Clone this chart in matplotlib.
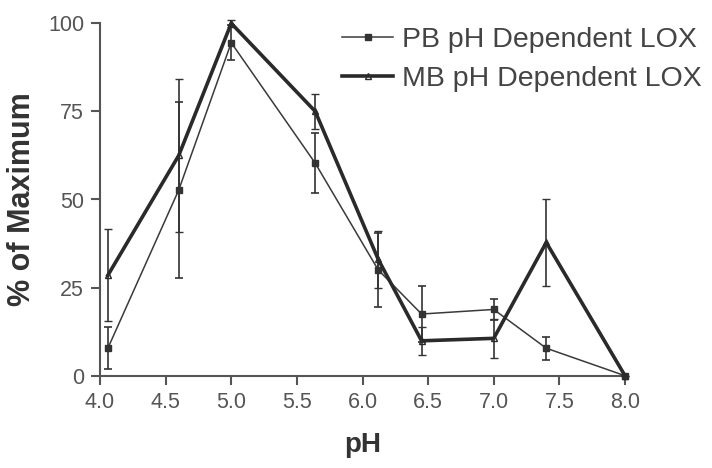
import numpy as np
import matplotlib
matplotlib.use("Agg")
import matplotlib.pyplot as plt

# pH values and % of maximum
ph = [4.06, 4.6, 5.0, 5.64, 6.12, 6.45, 7.0, 7.4, 8.0]
pb_mean = [7.8, 52.7, 94.5, 60.3, 30.0, 17.5, 18.8, 7.8, 0.0]
pb_err = [6.0, 25.0, 5.0, 8.5, 10.5, 8.0, 3.0, 3.3, 0.0]
mb_mean = [28.5, 62.5, 100.0, 75.0, 33.0, 9.9, 10.6, 37.8, 0.0]
mb_err = [13.0, 21.8, 1.0, 5.0, 8.0, 4.0, 5.6, 12.4, 0.0]

xticks = [4.0, 4.5, 5.0, 5.5, 6.0, 6.5, 7.0, 7.5, 8.0]
yticks = [0, 25, 50, 75, 100]

plt.rcParams['font.family'] = ['Liberation Sans', 'DejaVu Sans']

fig = plt.figure(figsize=(7.12, 4.68), dpi=100)
ax = fig.add_axes([100 / 712, 1 - 375.7 / 468, 525 / 712, 352.4 / 468])

pb = ax.errorbar(ph, pb_mean, yerr=pb_err, color='#3a3a3a', lw=1.1,
                 marker='s', ms=4.5, mfc='#333333', mec='#333333',
                 ecolor='#333333', elinewidth=1.2, capsize=3, capthick=1.2,
                 clip_on=False, label='PB pH Dependent LOX', zorder=3)
mb = ax.errorbar(ph, mb_mean, yerr=mb_err, color='#2a2a2a', lw=2.6,
                 marker='^', ms=4, mfc='none', mec='#2a2a2a', mew=1.0,
                 ecolor='#333333', elinewidth=1.2, capsize=3, capthick=1.2,
                 clip_on=False, label='MB pH Dependent LOX', zorder=4)

ax.set_xlim(4.0, 8.0)
ax.set_ylim(0, 100)
ax.set_xticks(xticks)
ax.set_xticklabels(['%.1f' % t for t in xticks])
ax.set_yticks(yticks)

for s in ['top', 'right']:
    ax.spines[s].set_visible(False)
for s in ['left', 'bottom']:
    ax.spines[s].set_color('#555555')
    ax.spines[s].set_linewidth(1.5)

ax.tick_params(direction='out', length=6.5, width=1.5, color='#555555',
               labelsize=15.5, labelcolor='#555555', pad=5)

ax.set_xlabel('pH', fontsize=20, fontweight='bold', color='#333333', labelpad=14)
ax.set_ylabel('% of Maximum', fontsize=22, fontweight='bold', color='#333333', labelpad=8)

leg = ax.legend(handles=[pb.lines[0], mb.lines[0]],
                labels=['PB pH Dependent LOX', 'MB pH Dependent LOX'],
                loc='upper left',
                bbox_to_anchor=(342 / 712, 1 - 27 / 468), bbox_transform=fig.transFigure,
                frameon=False, fontsize=20.5, handlelength=1.8, handletextpad=0.3,
                labelspacing=0.45, borderpad=0, borderaxespad=0)
for t in leg.get_texts():
    t.set_color('#444444')

fig.savefig('out.png', dpi=100)
